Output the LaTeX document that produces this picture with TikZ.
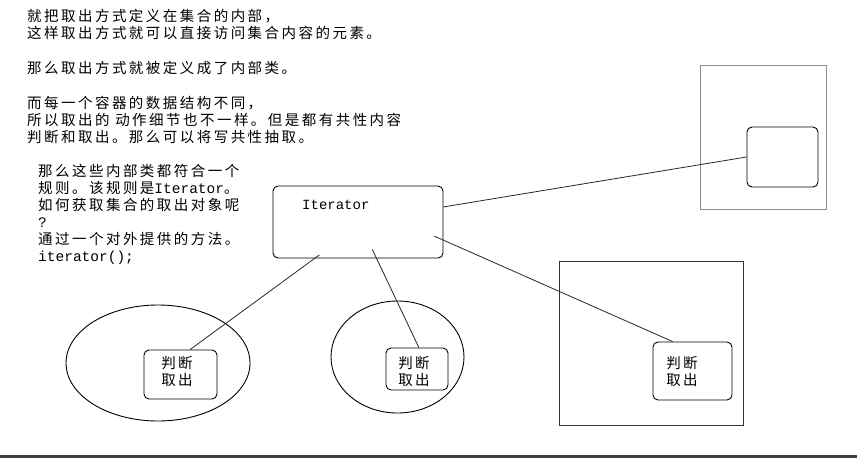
\documentclass[tikz,border=0pt]{standalone}
\usepackage{fontspec}
\newfontfamily\cjk[LetterSpace=17]{Noto Sans CJK SC}
\newfontfamily\lat{Liberation Mono}
\usetikzlibrary{positioning,shapes.geometric}
\tikzset{
  note/.style={anchor=north west, align=left, inner sep=0pt, font=\cjk\fontsize{14.5}{17}\selectfont},
  pick/.style={align=left, inner sep=0pt, font=\cjk\fontsize{14.5}{17}\selectfont},
  rbox/.style={draw, rounded corners=5pt, line width=0.9pt},
  frame/.style={draw, line width=1pt},
  oval/.style={draw, ellipse, inner sep=0pt, line width=0.9pt},
  link/.style={draw, line width=0.8pt, black!85},
}

\begin{document}
\begin{tikzpicture}[x=1pt, y=-1pt]
  \useasboundingbox (0,0) rectangle (857,458);
  % explanation texts
  \node[note] (introA) at (27,9) {就把取出方式定义在集合的内部，\\这样取出方式就可以直接访问集合内容的元素。\\[18pt]那么取出方式就被定义成了内部类。\\[18pt]而每一个容器的数据结构不同，\\所以取出的 动作细节也不一样。但是都有共性内容\\判断和取出。那么可以将写共性抽取。};
  \node[note] (introB) at (38,164) {那么这些内部类都符合一个\\规则。该规则是{\lat Iterator}。\\如何获取集合的取出对象呢\\{\lat ?}\\通过一个对外提供的方法。\\{\lat iterator();}};

  % containers
  \node[oval, minimum width=184pt, minimum height=116pt] (ovalA) at (158,363) {};
  \node[oval, minimum width=133pt, minimum height=112pt] (ovalB) at (397.5,357) {};
  \node[frame, draw=black!80, minimum width=184pt, minimum height=164pt] (frameC) at (651,343) {};
  \node[frame, draw=black!45, minimum width=126pt, minimum height=144pt] (frameD) at (763,137) {};

  % inner classes
  \node[rbox, minimum width=73pt, minimum height=49pt] (pickA) at (180.5,374.5) {};
  \node[pick] (pickAtxt) at (177,371.5) {判断\\取出};
  \node[rbox, minimum width=62pt, minimum height=42pt] (pickB) at (417,369) {};
  \node[pick] (pickBtxt) at (414,371.5) {判断\\取出};
  \node[rbox, minimum width=79pt, minimum height=58pt] (pickC) at (692.5,371) {};
  \node[pick] (pickCtxt) at (682,371) {判断\\取出};
  \node[rbox, minimum width=71pt, minimum height=60pt] (pickD) at (782.5,157) {};

  % the rule
  \node[rbox, minimum width=170pt, minimum height=72pt] (iter) at (358,222) {};
  \node[anchor=west, inner sep=0pt, font=\lat\fontsize{14}{17}\selectfont] (itertxt) at (302,205) {Iterator};

  \draw[link] (iter.10) -- (pickD.west);
  \draw[link, shorten <=-10pt] (iter.-12) -- (pickC.124);
  \draw[link, shorten <=-6pt] (iter.-140) -- (pickA.69);
  \draw[link, shorten <=-10pt] (iter.-63) -- (pickB.85);

  % bottom rule of the screenshot
  \fill[black!75] (0,455) rectangle (857,458);
\end{tikzpicture}
\end{document}
